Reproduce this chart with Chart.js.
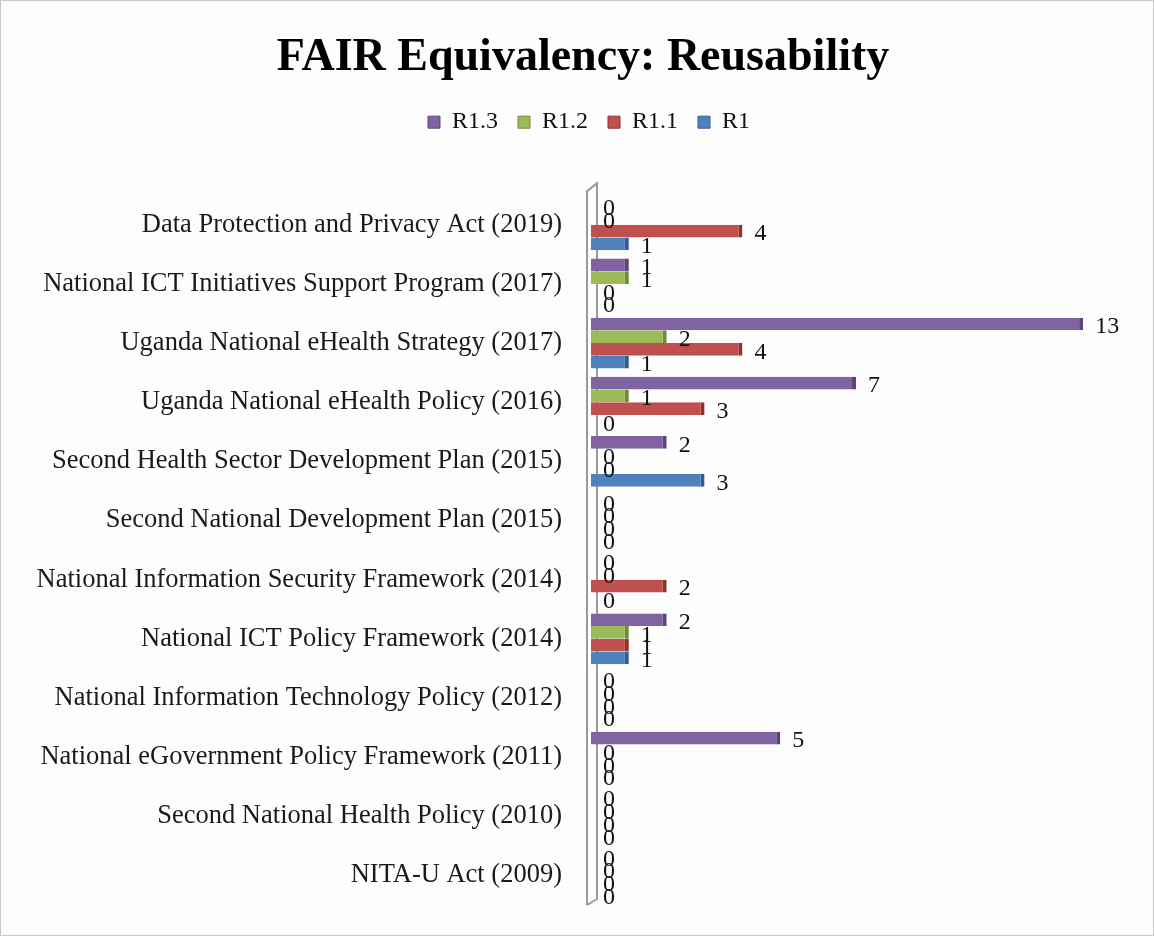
<!DOCTYPE html>
<html>
<head>
<meta charset="utf-8">
<script src="https://cdn.jsdelivr.net/npm/chart.js@4.4.1/dist/chart.umd.min.js"></script>
<style>
  html, body { margin: 0; padding: 0; background: #fdfdfe; }
  #wrap { width: 1154px; height: 936px; position: relative; box-sizing: border-box; border: 1px solid #c8c8c8; }
</style>
</head>
<body>
<div id="wrap"><canvas id="reuseChart" width="1152" height="934"></canvas></div>
<script>
// ===== Dữ liệu =====
const policies = [
  "Data Protection and Privacy Act (2019)",
  "National ICT Initiatives Support Program (2017)",
  "Uganda National eHealth Strategy (2017)",
  "Uganda National eHealth Policy (2016)",
  "Second Health Sector Development Plan (2015)",
  "Second National Development Plan (2015)",
  "National Information Security Framework (2014)",
  "National ICT Policy Framework (2014)",
  "National Information Technology Policy (2012)",
  "National eGovernment Policy Framework (2011)",
  "Second National Health Policy (2010)",
  "NITA-U Act (2009)",
];
const r13 = [0, 1, 13, 7, 2, 0, 0, 2, 0, 5, 0, 0];
const r12 = [0, 1, 2, 1, 0, 0, 0, 1, 0, 0, 0, 0];
const r11 = [4, 0, 4, 3, 0, 0, 2, 1, 0, 0, 0, 0];
const r1 = [1, 0, 1, 0, 3, 0, 0, 1, 0, 0, 0, 0];

const serif = "'Liberation Serif', 'DejaVu Serif', serif";

// ghi số ở đầu mỗi thanh
const valueLabels = {
  id: "valueLabels",
  afterDatasetsDraw(chart) {
    const ctx = chart.ctx;
    ctx.save();
    ctx.font = "24px " + serif;
    ctx.fillStyle = "#111";
    ctx.textAlign = "left";
    ctx.textBaseline = "middle";
    chart.data.datasets.forEach((ds, i) => {
      chart.getDatasetMeta(i).data.forEach((bar, j) => {
        ctx.fillText(String(ds.data[j]), bar.x + 12, bar.y + 3);
      });
    });
    ctx.restore();
  },
};

// vách trục dọc kiểu 3D
const axisWall = {
  id: "axisWall",
  beforeDatasetsDraw(chart) {
    const { ctx, chartArea } = chart;
    ctx.save();
    ctx.strokeStyle = "#9a9a9a";
    ctx.lineWidth = 2;
    ctx.beginPath();
    ctx.moveTo(chartArea.left - 4, chartArea.bottom);
    ctx.lineTo(chartArea.left - 4, chartArea.top - 4);
    ctx.lineTo(chartArea.left + 6, chartArea.top - 12);
    ctx.lineTo(chartArea.left + 6, chartArea.bottom - 6);
    ctx.lineTo(chartArea.left - 4, chartArea.bottom);
    ctx.stroke();
    ctx.restore();
  },
};

// thêm khoảng trống dưới chú giải, dịch tiêu đề + chú giải sang phải một chút
const legendGap = {
  id: "legendGap",
  beforeInit(chart) {
    const fit = chart.legend.fit;
    chart.legend.fit = function () {
      fit.bind(chart.legend)();
      this.height += 51;
    };
  },
  afterLayout(chart) {
    chart.legend.left += 28;
    chart.legend.right += 28;
    chart.titleBlock.left += 22;
    chart.titleBlock.right += 22;
  },
};

new Chart(document.getElementById("reuseChart"), {
  type: "bar",
  data: {
    labels: policies,
    datasets: [
      { label: "R1.3", data: r13, backgroundColor: "#8064A2", borderColor: "#5c4678" },
      { label: "R1.2", data: r12, backgroundColor: "#9BBB59", borderColor: "#6f8a3a" },
      { label: "R1.1", data: r11, backgroundColor: "#C0504D", borderColor: "#8c3331" },
      { label: "R1", data: r1, backgroundColor: "#4F81BD", borderColor: "#335d8f" },
    ],
  },
  options: {
    indexAxis: "y",
    responsive: false,
    animation: false,
    categoryPercentage: 0.86,
    barPercentage: 1.0,
    datasets: {
      bar: { borderWidth: { right: 4, top: 0, bottom: 0, left: 0 }, borderSkipped: false },
    },
    layout: { padding: { left: 0, right: 32, top: 26, bottom: 30 } },
    plugins: {
      title: {
        display: true,
        text: "FAIR Equivalency: Reusability",
        color: "#000",
        font: { family: serif, size: 46, weight: "bold" },
        padding: { top: 4, bottom: 4 },
      },
      legend: {
        position: "top",
        labels: {
          color: "#111",
          font: { family: serif, size: 24 },
          boxWidth: 12,
          boxHeight: 12,
          padding: 20,
        },
      },
      tooltip: { enabled: false },
    },
    scales: {
      x: { display: false, min: 0, max: 14 },
      y: {
        grid: { display: false },
        border: { display: false },
        ticks: { color: "#1a1a1a", font: { family: serif, size: 26.5 }, padding: 21 },
        afterFit: (s) => {
          s.width = 590;
          s.paddingTop = 0;
          s.paddingBottom = 0;
        },
      },
    },
  },
  plugins: [valueLabels, axisWall, legendGap],
});
</script>
</body>
</html>
